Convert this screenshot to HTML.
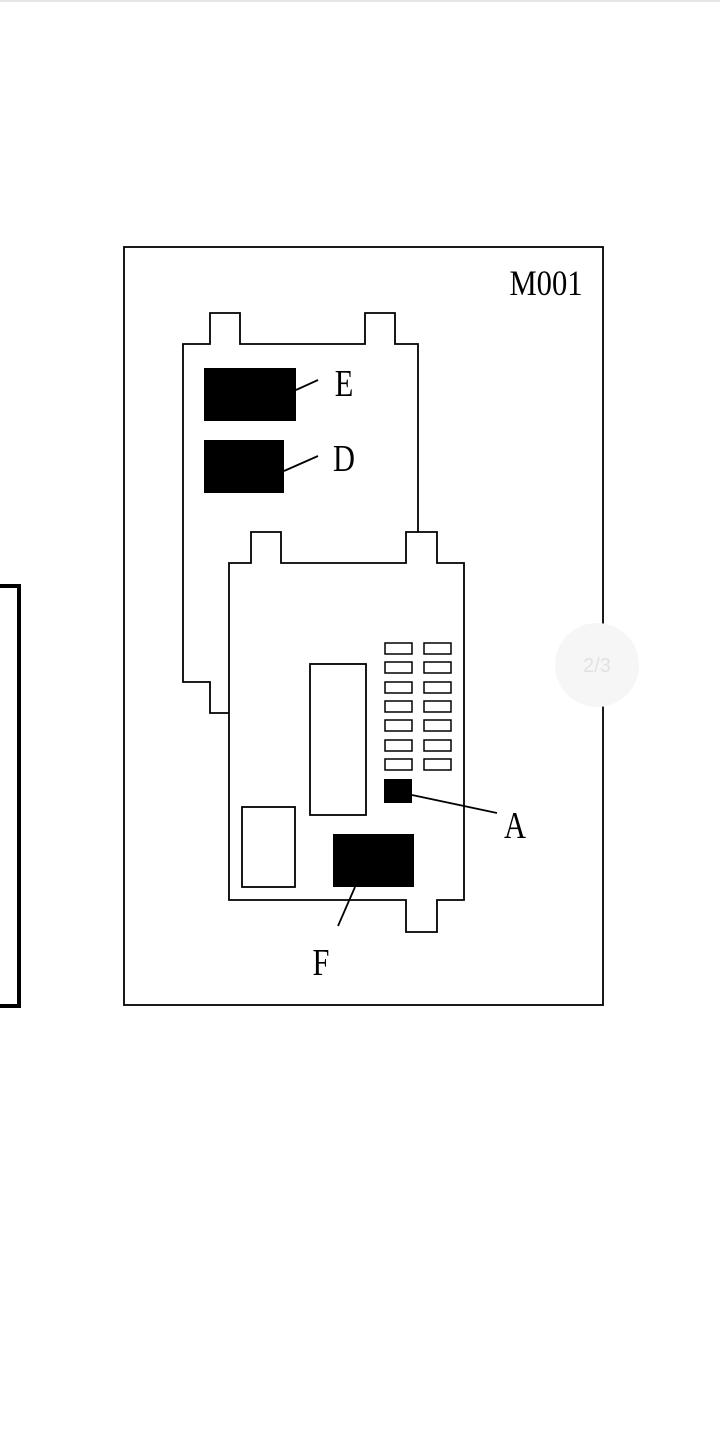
<!DOCTYPE html>
<html><head><style>html,body{margin:0;padding:0;background:#fff;}svg{display:block;}</style></head>
<body>
<svg width="720" height="1440" viewBox="0 0 720 1440" xmlns="http://www.w3.org/2000/svg">
<line x1="0" y1="1" x2="720" y2="1" stroke="#e6e6e6" stroke-width="2"/>
<path d="M0 586 H19 V1006 H0" fill="none" stroke="#000" stroke-width="4"/>
<rect x="124" y="247" width="479" height="758" fill="none" stroke="#000" stroke-width="1.8"/>
<text x="546" y="295" font-family="Liberation Serif, serif" font-size="36" text-anchor="middle" transform="translate(546 0) scale(0.85 1) translate(-546 0)">M001</text>
<g fill="none" stroke="#000" stroke-width="1.8">
<path d="M229 713 H210 V682 H183 V344 H210 V313 H240 V344 H365 V313 H395 V344 H418 V532"/>
<path d="M229 563 H251 V532 H281 V563 H406 V532 H437 V563 H464 V900 H437 V932 H406 V900 H229 Z"/>
<rect x="310" y="664" width="56" height="151"/>
<rect x="242" y="807" width="53" height="80"/>
<g stroke-width="1.5">
<rect x="385" y="643" width="27" height="11"/><rect x="424" y="643" width="27" height="11"/>
<rect x="385" y="662" width="27" height="11"/><rect x="424" y="662" width="27" height="11"/>
<rect x="385" y="682" width="27" height="11"/><rect x="424" y="682" width="27" height="11"/>
<rect x="385" y="701" width="27" height="11"/><rect x="424" y="701" width="27" height="11"/>
<rect x="385" y="720" width="27" height="11"/><rect x="424" y="720" width="27" height="11"/>
<rect x="385" y="740" width="27" height="11"/><rect x="424" y="740" width="27" height="11"/>
<rect x="385" y="759" width="27" height="11"/><rect x="424" y="759" width="27" height="11"/>
</g>
<line x1="296" y1="390" x2="318" y2="380"/>
<line x1="284" y1="471" x2="318" y2="456"/>
<line x1="412" y1="795" x2="497" y2="813"/>
<line x1="355" y1="887" x2="338" y2="926"/>
</g>
<rect x="204" y="368" width="92" height="53" fill="#000"/>
<rect x="204" y="440" width="80" height="53" fill="#000"/>
<rect x="384" y="779" width="28" height="24" fill="#000"/>
<rect x="333" y="834" width="81" height="53" fill="#000"/>
<g font-family="Liberation Serif, serif" font-size="38" text-anchor="middle">
<text x="344" y="396" transform="translate(344 0) scale(0.8 1) translate(-344 0)">E</text>
<text x="344" y="471" transform="translate(344 0) scale(0.8 1) translate(-344 0)">D</text>
<text x="515" y="838" transform="translate(515 0) scale(0.8 1) translate(-515 0)">A</text>
<text x="321" y="975" transform="translate(321 0) scale(0.8 1) translate(-321 0)">F</text>
</g>
<circle cx="597" cy="665" r="42" fill="#f6f6f6"/>
<text x="597" y="672" font-family="Liberation Sans, sans-serif" font-size="20" fill="#e2e2e2" text-anchor="middle">2/3</text>
</svg>
</body></html>
